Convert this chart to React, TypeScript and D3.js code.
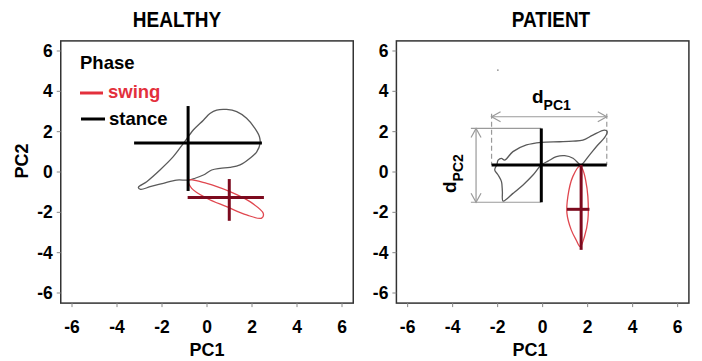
import React from "react";
import * as d3 from "d3";

type P = [number, number];

const tickValues = [-6, -4, -2, 0, 2, 4, 6];
const panelTitles = ["HEALTHY", "PATIENT"];
const legendTitle = "Phase";
const legendLabels = ["swing", "stance"];

// loops (PC1, PC2)
const healthyStance: P[] = [
  [-0.83, -0.4], [-1.35, -0.4], [-1.94, -0.56], [-2.53, -0.73], [-2.95, -0.86], [-3.05, -0.76],
  [-2.68, -0.48], [-2.09, 0.1], [-1.5, 0.76], [-1.05, 1.42], [-0.61, 2.08], [-0.16, 2.57],
  [0.13, 2.9], [0.43, 3.07], [0.87, 3.1], [1.32, 2.99], [1.76, 2.66], [2.13, 2.16],
  [2.33, 1.75], [2.36, 1.42], [2.21, 1.0], [1.91, 0.68], [1.47, 0.35], [1.02, 0.23],
  [0.58, 0.18], [0.21, 0.1], [-0.16, -0.15], [-0.53, -0.31],
];
const healthySwing: P[] = [
  [-0.83, -0.4], [-0.01, -0.56], [1.02, -0.97], [1.91, -1.47], [2.5, -2.05], [2.43, -2.29],
  [1.76, -2.13], [0.87, -1.72], [-0.01, -1.3], [-0.68, -0.81],
];
const patientStance: P[] = [
  [-1.76, -1.44], [-1.32, -1.06], [-0.87, -0.64], [-0.43, -0.15], [-0.06, 0.35], [0.24, 0.54],
  [0.61, 0.76], [0.98, 0.81], [1.35, 0.68], [1.64, 0.38], [1.71, 0.35], [2.08, 0.84],
  [2.45, 1.34], [2.75, 1.7], [2.87, 2.0], [2.75, 2.08], [2.23, 1.83], [1.79, 1.58],
  [1.35, 1.53], [0.75, 1.5], [-0.06, 1.47], [-0.72, 1.34], [-1.32, 1.01], [-1.69, 0.59],
  [-1.83, 0.68], [-1.98, 0.59], [-2.03, 0.38], [-2.13, 0.1], [-1.98, -0.15], [-1.83, -0.48],
  [-1.79, -0.97],
];
const patientSwing: P[] = [
  [1.67, 0.3], [1.34, -0.23], [1.12, -1.22], [1.08, -2.05], [1.27, -2.87], [1.49, -3.37],
  [1.67, -3.7], [1.86, -3.2], [2.01, -2.38], [2.01, -1.22], [1.91, -0.4], [1.79, 0.1],
];

// crosshairs: [centerPC1, centerPC2, minPC1, maxPC1, minPC2, maxPC2]
const healthyStanceCross = [-0.84, 1.44, -3.24, 2.44, -0.94, 3.27];
const healthySwingCross = [0.99, -1.27, -0.86, 2.53, -2.42, -0.35];
const patientStanceCross = [-0.06, 0.35, -2.27, 2.85, -1.5, 2.16];
const patientSwingCross = [1.71, -1.85, 1.08, 2.08, -3.86, 0.35];

// annotation (patient): dPC1 arrow level, dPC2 arrow position, box left edge
const dPC1Level = 2.74;
const dPC2Pos = -2.96;
const dPC2BoxLeft = -3.19;
const strayDot: P = [-1.99, 5.05];

const FONT = "'Liberation Sans', Arial, Helvetica, sans-serif";
const RED = "#e3303c";
const LOOP_RED = "#e0474f";
const DARK_RED = "#7c0a1e";
const LOOP_GRAY = "#5a5a5a";

function Panel({ left, title, titleX, pc1X, stance, swing, sCross, wCross, showY, legend, annot }: any) {
  const x = d3.scaleLinear().domain([-6.5, 6.5]).range([left, left + 292.5]);
  const y = d3.scaleLinear().domain([-6.5, 6.5]).range([303.1, 40.9]);
  const loop = d3
    .line<P>()
    .x((d) => x(d[0]))
    .y((d) => y(d[1]))
    .curve(d3.curveCatmullRomClosed.alpha(0.5));
  const cross = (c: number[], color: string) => (
    <g stroke={color} strokeWidth={3}>
      <line x1={x(c[2])} x2={x(c[3])} y1={y(c[1])} y2={y(c[1])} />
      <line x1={x(c[0])} x2={x(c[0])} y1={y(c[4])} y2={y(c[5])} />
    </g>
  );
  const [x0, x1] = x.range();
  const [y0, y1] = y.range();
  return (
    <g fontFamily={FONT} fontWeight="bold">
      <text x={titleX} y={27} textAnchor="middle" fontSize={19} transform={`translate(0,${27 * -0.12}) scale(1,1.12)`}>
        {title}
      </text>
      <rect x={x0} y={y1} width={x1 - x0} height={y0 - y1} fill="none" stroke="#333" strokeWidth={1.5} />
      {tickValues.map((t) => (
        <g key={"x" + t}>
          <line x1={x(t)} x2={x(t)} y1={y0} y2={y0 + 4} stroke="#888" strokeWidth={1} />
          <text x={x(t)} y={333} textAnchor="middle" fontSize={17.5}>
            {t}
          </text>
          <line x1={x0} x2={x0 - 4} y1={y(t)} y2={y(t)} stroke="#888" strokeWidth={1} />
          <text x={x0 - 8} y={y(t) + 6} textAnchor="end" fontSize={17.5}>
            {t}
          </text>
        </g>
      ))}
      <text x={pc1X} y={356} textAnchor="middle" fontSize={18}>
        PC1
      </text>
      {showY && (
        <text transform={`translate(28,161) rotate(-90)`} textAnchor="middle" fontSize={18}>
          PC2
        </text>
      )}
      {annot}
      <path d={loop(stance) || ""} fill="none" stroke={LOOP_GRAY} strokeWidth={1.3} />
      <path d={loop(swing) || ""} fill="none" stroke={LOOP_RED} strokeWidth={1.3} />
      {cross(sCross, "#000")}
      {cross(wCross, DARK_RED)}
      {legend}
    </g>
  );
}

export default function App() {
  const xr = d3.scaleLinear().domain([-6.5, 6.5]).range([396.4, 688.9]);
  const yr = d3.scaleLinear().domain([-6.5, 6.5]).range([303.1, 40.9]);
  const ax1 = xr(patientStanceCross[2]);
  const ax2 = xr(patientStanceCross[3]);
  const ay = yr(dPC1Level);
  const vx = xr(dPC2Pos);
  const vy1 = yr(patientStanceCross[5]);
  const vy2 = yr(patientStanceCross[4]);
  const cy = yr(patientStanceCross[1]);
  const boxL = xr(dPC2BoxLeft);
  const boxR = xr(patientStanceCross[0]);
  const ag = "#9a9a9a";
  const annot = (
    <g>
      <g stroke={ag} strokeWidth={1.2} fill="none">
        <line x1={ax1} x2={ax2} y1={ay} y2={ay} />
        <path d={`M${ax1 + 9},${ay - 5}L${ax1},${ay}L${ax1 + 9},${ay + 5}`} />
        <path d={`M${ax2 - 9},${ay - 5}L${ax2},${ay}L${ax2 - 9},${ay + 5}`} />
        <line x1={ax1} x2={ax1} y1={ay - 3} y2={cy} strokeDasharray="5,3" />
        <line x1={ax2} x2={ax2} y1={ay - 3} y2={cy} strokeDasharray="5,3" />
        <line x1={vx} x2={vx} y1={vy1} y2={vy2} />
        <path d={`M${vx - 5},${vy1 + 9}L${vx},${vy1}L${vx + 5},${vy1 + 9}`} />
        <path d={`M${vx - 5},${vy2 - 9}L${vx},${vy2}L${vx + 5},${vy2 - 9}`} />
        <line x1={boxL} x2={boxR} y1={vy1} y2={vy1} />
        <line x1={boxL} x2={boxR} y1={vy2} y2={vy2} />
      </g>
      <circle cx={xr(strayDot[0])} cy={yr(strayDot[1])} r={0.8} fill="#888" />
      <text x={532} y={103} fontSize={19}>
        d<tspan fontSize={14} dy={7}>PC1</tspan>
      </text>
      <text transform={`translate(456,193) rotate(-90)`} fontSize={19}>
        d<tspan fontSize={14} dy={7}>PC2</tspan>
      </text>
    </g>
  );
  const legend = (
    <g fontSize={18.5}>
      <text x={80} y={69}>{legendTitle}</text>
      <line x1={80} x2={103} y1={93} y2={93} stroke={RED} strokeWidth={3} />
      <text x={108} y={98} fill={RED}>{legendLabels[0]}</text>
      <line x1={81} x2={105} y1={119} y2={119} stroke="#000" strokeWidth={3} />
      <text x={109} y={125}>{legendLabels[1]}</text>
    </g>
  );
  return (
    <svg width={702} height={361} style={{ position: "absolute", left: 0, top: 0, background: "#fff" }}>
      <rect width={702} height={361} fill="#fff" />
      <Panel
        left={60.75}
        title={panelTitles[0]}
        titleX={177}
        pc1X={207}
        stance={healthyStance}
        swing={healthySwing}
        sCross={healthyStanceCross}
        wCross={healthySwingCross}
        showY={true}
        legend={legend}
      />
      <Panel
        left={396.4}
        title={panelTitles[1]}
        titleX={551}
        pc1X={530}
        stance={patientStance}
        swing={patientSwing}
        sCross={patientStanceCross}
        wCross={patientSwingCross}
        showY={false}
        annot={annot}
      />
    </svg>
  );
}
